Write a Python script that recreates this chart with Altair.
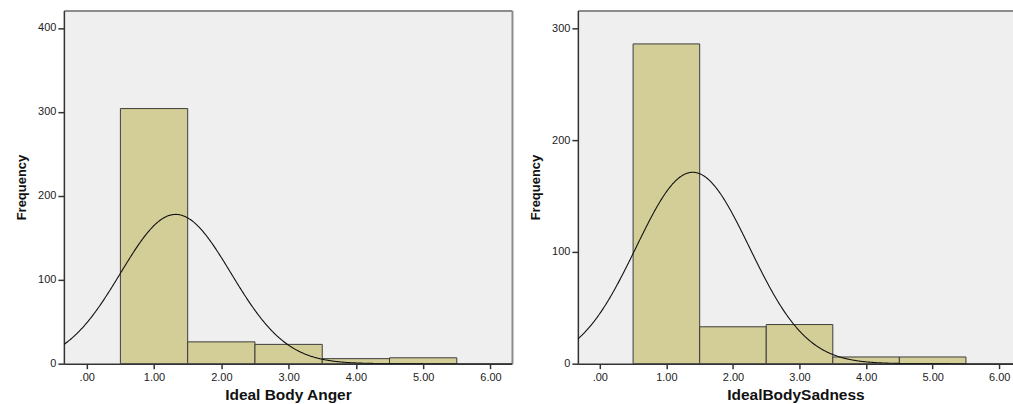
import altair as alt
import numpy as np
import pandas as pd

# Histogram bins (unit width, centred on the integer scores)
bin_starts = [0.5, 1.5, 2.5, 3.5, 4.5]
bin_ends = [1.5, 2.5, 3.5, 4.5, 5.5]
bin_mids = [1, 2, 3, 4, 5]

# Frequencies per bin
anger_counts = [304, 26, 23, 6, 7]
sadness_counts = [286, 33, 35, 6, 6]

# Axis tick values
x_ticks = [0, 1, 2, 3, 4, 5, 6]
anger_y_ticks = [0, 100, 200, 300, 400]
sadness_y_ticks = [0, 100, 200, 300]

FONT = "Liberation Sans"
BAR_FILL = "#D3CE97"
BAR_STROKE = "#3C3C3C"
DARK = "#333333"
FRAME = "#8C8C8C"
X_LABELS = "datum.value == 0 ? '.00' : format(datum.value, '.2f')"


def panel(counts, x_title, x_domain, y_max, y_ticks, width, height, right_edge=True):
    df = pd.DataFrame({"start": bin_starts, "end": bin_ends, "mid": bin_mids, "count": counts})

    # Normal curve fitted to the binned scores
    n = float(sum(counts))
    mean = float(np.average(bin_mids, weights=counts))
    sd = float(np.sqrt(sum(c * (m - mean) ** 2 for c, m in zip(counts, bin_mids)) / (n - 1)))

    xs = alt.Scale(domain=x_domain, nice=False, zero=False)
    ys = alt.Scale(domain=[0, y_max], nice=False)

    bars = alt.Chart(df).mark_rect(
        fill=BAR_FILL, stroke=BAR_STROKE, strokeWidth=1
    ).encode(
        x=alt.X("start:Q", scale=xs, axis=alt.Axis(
            values=x_ticks, labelExpr=X_LABELS, title=x_title, grid=False,
            domainColor=DARK, domainWidth=1.5, tickColor=DARK, tickSize=5, tickWidth=1.5,
            labelFontSize=11, labelColor="#222222", labelFont=FONT, labelPadding=3,
            titleFont=FONT, titleFontSize=15.5, titleFontWeight="bold", titleColor="#111111",
            titlePadding=5,
        )),
        x2="end:Q",
        y=alt.Y("count:Q", scale=ys, axis=alt.Axis(
            values=y_ticks, format="d", title="Frequency", grid=False,
            domainColor=DARK, domainWidth=1.5, tickColor=DARK, tickSize=6, tickWidth=1.5,
            labelFontSize=11, labelColor="#222222", labelFont=FONT, labelPadding=2,
            titleFont=FONT, titleFontSize=13, titleFontWeight="bold", titleColor="#111111",
            titlePadding=9,
        )),
        y2=alt.datum(0),
    )

    # Top (and right) edges of the plot frame
    frame = alt.Chart(df).mark_point(opacity=0).encode(
        x=alt.X("mid:Q", scale=xs, axis=alt.Axis(
            orient="top", labels=False, ticks=False, title=None, grid=False,
            domainColor=FRAME, domainWidth=2,
        )),
        y=alt.Y("count:Q", scale=ys, axis=alt.Axis(
            orient="right", labels=False, ticks=False, title=None, grid=False,
            domainColor=FRAME, domainWidth=2, domain=right_edge,
        )),
    )

    curve = alt.Chart(
        alt.sequence(x_domain[0], x_domain[1] + 0.005, 0.01, as_="x")
    ).transform_calculate(
        density=f"{n} / ({sd} * sqrt(2 * PI)) * exp(-0.5 * pow((datum.x - {mean}) / {sd}, 2))"
    ).mark_line(color="#111111", strokeWidth=1.1, clip=True).encode(
        x=alt.X("x:Q", scale=xs, axis=None),
        y=alt.Y("density:Q", scale=ys, axis=None),
    )

    return alt.layer(bars, curve, frame).resolve_axis(
        x="independent", y="independent"
    ).properties(width=width, height=height)


left = panel(anger_counts, "Ideal Body Anger", [-0.34, 6.32], 421, anger_y_ticks, 449, 354)
right = panel(sadness_counts, "IdealBodySadness", [-0.33, 6.207], 316, sadness_y_ticks, 436, 354,
              right_edge=False)

chart = alt.hconcat(left, right, spacing=17).properties(
    padding={"left": 15, "top": 10, "right": 0, "bottom": 0},
    background="white",
).configure_view(
    fill="#EFEFEF", stroke=None
)

chart.save("out.html", embed_options={"renderer": "svg", "actions": False})
